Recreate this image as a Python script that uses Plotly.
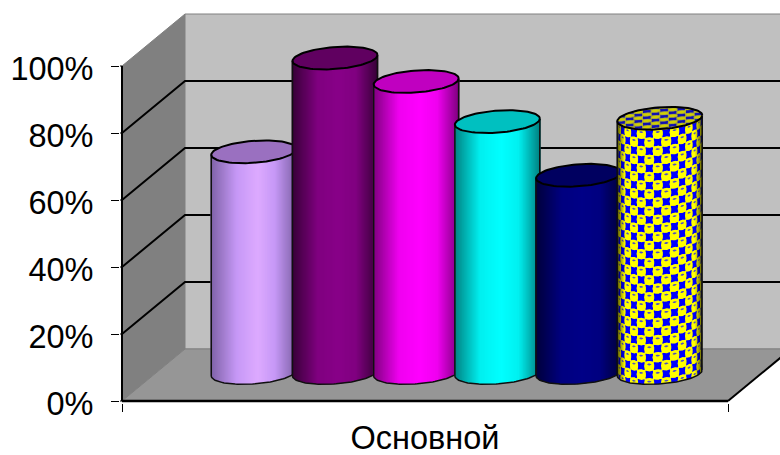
import numpy as np
import plotly.graph_objects as go

# Data
series_names = ["Ряд 1", "Ряд 2", "Ряд 3", "Ряд 4", "Ряд 5", "Ряд 6"]
values = [66, 94, 87, 75, 59, 76]
category = "Основной"
y_ticks = [0, 20, 40, 60, 80, 100]
y_labels = ["0%", "20%", "40%", "60%", "80%", "100%"]

# Cylinder colours: side, edge of the side, lit centre, cap
side_colors = ["#C698F6", "#800080", "#F000F0", "#00F0F0", "#000080", "#FFFF00"]
edge_colors = ["#7F62A8", "#380038", "#800080", "#008080", "#000038", "#808000"]
lit_colors = ["#DDAAFF", "#880088", "#FF00FF", "#00FFFF", "#000088", "#FFFF00"]
cap_colors = ["#9A70C0", "#600060", "#C000C0", "#00C0C0", "#000060", "#C8C800"]

# Scales of the oblique projection
PX_PER_X = 606.0    # pixels for the whole front edge (x runs 0..1)
PX_PER_Y = 3.35     # pixels for one percent
DEPTH_X = 63 / PX_PER_X
DEPTH_Y = 52 / PX_PER_Y
PAD = 2.0           # pixels kept around the origin so that axis strokes are not cut


def project(x, value, depth):
    return x + DEPTH_X * depth, value + DEPTH_Y * depth


fig = go.Figure()


def line(xs, ys, color, width):
    fig.add_trace(go.Scatter(x=xs, y=ys, mode="lines", line=dict(color=color, width=width),
                             hoverinfo="skip", showlegend=False))


def poly(xs, ys, color, border=None, width=0):
    fig.add_trace(go.Scatter(x=xs, y=ys, mode="lines", fill="toself", fillcolor=color,
                             line=dict(color=border or color, width=width),
                             hoverinfo="skip", showlegend=False))


def quad(corners):
    pts = [project(*c) for c in corners + corners[:1]]
    return [p[0] for p in pts], [p[1] for p in pts]


# Walls and floor
poly(*quad([(0, 0, 0), (0, 100, 0), (0, 100, 1), (0, 0, 1)]), "#808080", "#808080", 1)
poly(*quad([(0, 0, 1), (0, 100, 1), (1, 100, 1), (1, 0, 1)]), "#C0C0C0", "#808080", 1)
poly(*quad([(0, 0, 0), (1, 0, 0), (1, 0, 1), (0, 0, 1)]), "#969696", "#808080", 1)

# Gridlines wrapping the side wall and the back wall
for t in y_ticks[1:-1]:
    xs, ys = zip(project(0, t, 0), project(0, t, 1), project(1, t, 1))
    line(list(xs), list(ys), "#000000", 2)

# Axis strokes and the right floor edge
line([0, 0], [0, 100], "#000000", 2)
line([0, 1], [0, 0], "#000000", 2.5)
xs, ys = zip(project(1, 0, 0), project(1, 0, 1))
line(list(xs), list(ys), "#000000", 2)
for t in y_ticks:
    line([-PAD / PX_PER_X, 0], [t, t], "#000000", 1.2)

# Cylinder geometry
FIRST_X = 0.1613
STEP_X = 81.2 / PX_PER_X
CYL_DEPTH = 0.54
RX = 42.5 / PX_PER_X
RY = 11.0 / PX_PER_Y
TILT = 3.0 / PX_PER_Y


def front_curve(cx, cy, theta):
    """Front half of the elliptical rim; theta=0 is the right end."""
    return cx + RX * np.cos(theta), cy - RY * np.sin(theta) + TILT * np.cos(theta)


def mix(c1, c2, t):
    a = [int(c1[i:i + 2], 16) for i in (1, 3, 5)]
    b = [int(c2[i:i + 2], 16) for i in (1, 3, 5)]
    return "rgb(%d,%d,%d)" % tuple(round(p + (q - p) * t) for p, q in zip(a, b))


def shade(i, off):
    # off: -1 at the left silhouette, +1 at the right one, lit just right of centre
    s = (off + 1) / 1.1 if off < 0.1 else (1 - off) / 0.9
    if s < 0.55:
        return mix(edge_colors[i], side_colors[i], s / 0.55)
    return mix(side_colors[i], lit_colors[i], (s - 0.55) / 0.45)


def body_fill(cx, cy, height, color):
    thetas = np.linspace(0, np.pi, 60)
    xb, yb = front_curve(cx, cy, thetas)
    poly([xb[0]] + list(xb) + [xb[-1], xb[0]],
         [yb[0] + height] + list(yb) + [yb[-1] + height, yb[0] + height], color)


def strips(cx, cy, height, color_of):
    for off in np.linspace(-1, 1, 86):
        x0, y0 = front_curve(cx, cy, np.arccos(off))
        line([x0, x0], [y0, y0 + height], color_of(off), 1.6)


def body_outline(cx, cy, height):
    thetas = np.linspace(0, np.pi, 60)
    xb, yb = front_curve(cx, cy, thetas)
    line([xb[0]] + list(xb) + [xb[-1]], [yb[0] + height] + list(yb) + [yb[-1] + height], "#101010", 1.5)


def cap(cx, cy, height, color):
    thetas = np.linspace(0, 2 * np.pi, 90)
    xt = cx + RX * np.cos(thetas)
    yt = cy + height - RY * np.sin(thetas) + TILT * np.cos(thetas)
    poly(list(xt), list(yt), color, "#000000", 0)
    return xt, yt


def cylinder_texture(cx, cy, height):
    cell_angle = 8.6 / 42.5
    cell_y = 8.6 / PX_PER_Y
    sq_x, sq_y, disc_x, disc_y, dot_x, dot_y = [], [], [], [], [], []

    def to_surface(th, h):
        th = np.clip(th, 0.0, np.pi)
        h = np.clip(h, 0.0, height)
        px, py = front_curve(cx, cy, th)
        return px, py + h

    def add(store_x, store_y, th_arr, h_arr):
        px, py = to_surface(th_arr, h_arr)
        store_x.extend(list(px) + [None])
        store_y.extend(list(py) + [None])

    ring = np.linspace(0, 2 * np.pi, 12)
    for j in range(int(height / cell_y) + 2):
        for i in range(int(np.pi / cell_angle) + 2):
            th0 = (i + 0.5) * cell_angle - 0.1
            h0 = (j + 0.5) * cell_y - 1.0
            if (i + j) % 2 == 0:
                th = th0 + cell_angle * 0.45 * np.array([-1, 1, 1, -1, -1])
                hh = h0 + cell_y * 0.45 * np.array([-1, -1, 1, 1, -1])
                add(sq_x, sq_y, th, hh)
            else:
                add(disc_x, disc_y, th0 + cell_angle * 0.62 * np.cos(ring), h0 + cell_y * 0.62 * np.sin(ring))
                add(dot_x, dot_y, th0 + cell_angle * 0.26 * np.cos(ring), h0 + cell_y * 0.2 + cell_y * 0.11 * np.sin(ring))
    poly(sq_x, sq_y, "#0000FF")
    poly(disc_x, disc_y, "#FFFF00")
    poly(dot_x, dot_y, "#5050C0")

    # Shading over the pattern towards both silhouettes
    for off in np.linspace(-1, 1, 86):
        x0, y0 = front_curve(cx, cy, np.arccos(off))
        alpha = 0.7 * max(0.0, 1 - (1 - abs(off)) / 0.18)
        if alpha > 0:
            line([x0, x0], [y0, y0 + height], "rgba(0,0,0,%.3f)" % alpha, 1.0)


def cap_texture(cx, cy, height):
    cell_u = 8.6 / 42.5
    cell_v = 3.0 / 10.5
    sq_x, sq_y, disc_x, disc_y = [], [], [], []

    def add(store_x, store_y, u, v):
        r = np.maximum(1.0, np.hypot(u, v))
        u, v = u / r, v / r
        store_x.extend(list(cx + RX * u) + [None])
        store_y.extend(list(cy + height + RY * v + TILT * u) + [None])

    ring = np.linspace(0, 2 * np.pi, 10)
    for j in range(-4, 5):
        for i in range(-6, 7):
            u0, v0 = (i + 0.5) * cell_u, (j + 0.5) * cell_v
            if (i + j) % 2 == 0:
                add(sq_x, sq_y, u0 + cell_u * 0.45 * np.array([-1, 1, 1, -1, -1]),
                    v0 + cell_v * 0.45 * np.array([-1, -1, 1, 1, -1]))
            else:
                add(disc_x, disc_y, u0 + cell_u * 0.56 * np.cos(ring), v0 + cell_v * 0.56 * np.sin(ring))
    poly(sq_x, sq_y, "#1010B0")
    poly(disc_x, disc_y, "#D0D000", "#6060A0", 0.4)


# Cylinders, drawn left to right so each one overlaps its left neighbour
for i, (name, value) in enumerate(zip(series_names, values)):
    cx, cy = project(FIRST_X + STEP_X * i, 0, CYL_DEPTH)
    body_fill(cx, cy, value, side_colors[i])
    if i == 5:
        cylinder_texture(cx, cy, value)
    else:
        strips(cx, cy, value, lambda off, k=i: shade(k, off))
    body_outline(cx, cy, value)
    xt, yt = cap(cx, cy, value, cap_colors[i])
    if i == 5:
        cap_texture(cx, cy, value)
    line(list(xt), list(yt), "#000000", 2)

FONT = "Liberation Sans, Arial, sans-serif"
fig.update_layout(
    width=780, height=455,
    margin=dict(l=122 - PAD, r=0, t=0, b=54 - PAD, pad=0, autoexpand=False),
    paper_bgcolor="#FFFFFF", plot_bgcolor="#FFFFFF",
    font=dict(family=FONT, size=32.5, color="#000000"),
    showlegend=False,
    xaxis=dict(
        range=[-PAD / PX_PER_X, (780 - 122) / PX_PER_X],
        showgrid=False, zeroline=False, showline=False, automargin=False,
        tickmode="array", tickvals=[0.5], ticktext=[category], ticks="",
        ticklabelstandoff=12,
        minor=dict(tickmode="array", tickvals=[0, 1], ticks="outside", ticklen=8,
                   tickcolor="#000000", tickwidth=1.2, showgrid=False),
    ),
    yaxis=dict(
        range=[-PAD / PX_PER_Y, 401 / PX_PER_Y],
        showgrid=False, zeroline=False, showline=False, automargin=False,
        tickmode="array", tickvals=y_ticks, ticktext=y_labels,
        ticks="outside", ticklen=8, tickcolor="#000000", tickwidth=1.2,
        ticklabelstandoff=11, ticklabelshift=3,
    ),
)

fig.write_html("out.html", config=dict(displayModeBar=False))
